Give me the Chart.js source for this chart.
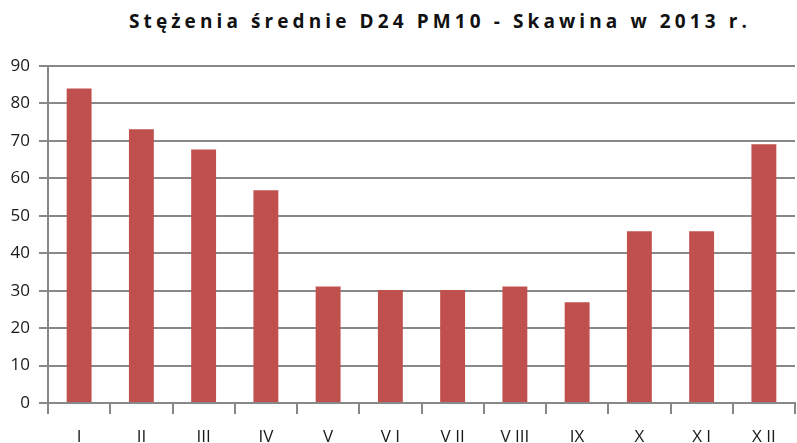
<!DOCTYPE html>
<html>
<head>
<meta charset="utf-8">
<script src="https://cdn.jsdelivr.net/npm/chart.js@4"></script>
<style>
  html, body { margin: 0; padding: 0; background: #fff; }
  #wrap { position: relative; width: 797px; height: 443px; }
  #title {
    position: absolute; left: 0; top: 8px; width: 880px; text-align: center;
    font: 700 19px "Open Sans", sans-serif; letter-spacing: 4.1px; color: #111;
    white-space: nowrap;
  }
  canvas { position: absolute; left: 0; top: 0; }
</style>
</head>
<body>
<div id="wrap">
  <div id="title">Stężenia średnie D24 PM10 - Skawina w 2013 r.</div>
  <canvas id="bar-chart" width="797" height="443"></canvas>
</div>
<script>
// months (labels spaced as in the original picture)
const months = ['I', 'II', 'III', 'IV', 'V', 'V I', 'V II', 'V III', 'IX', 'X', 'X I', 'X II'];
// monthly mean D24 PM10 concentrations
const pm10 = [84, 73.1, 67.7, 56.8, 31.1, 30.2, 30.2, 31.1, 26.9, 45.9, 45.9, 69.1];
const yTicks = [0, 10, 20, 30, 40, 50, 60, 70, 80, 90];

const gridColor = '#888888';
const tickFont = { family: '"Open Sans", sans-serif', size: 17 };

const ctx = document.getElementById('bar-chart').getContext('2d');
// eslint-disable-next-line no-unused-vars
const chart = new Chart(ctx, {
  type: 'bar',
  data: {
    labels: months,
    datasets: [
      {
        label: 'PM10',
        data: pm10,
        backgroundColor: '#C0504D',
        borderWidth: 0,
        categoryPercentage: 1,
        barPercentage: 0.4,
      },
    ],
  },
  options: {
    responsive: false,
    animation: false,
    layout: { padding: { top: 66, right: 2, left: 0, bottom: 0 } },
    plugins: {
      legend: { display: false },
      tooltip: { enabled: false },
      title: { display: false },
    },
    scales: {
      x: {
        grid: {
          offset: true,
          drawOnChartArea: false,
          color: gridColor,
          lineWidth: 2,
          tickLength: 11,
        },
        border: { color: gridColor, width: 2 },
        ticks: { color: '#1a1a1a', font: tickFont, padding: 13, maxRotation: 0, autoSkip: false },
        afterFit: (scale) => { scale.height = 40; },
      },
      y: {
        min: 0,
        max: 90,
        afterBuildTicks: (scale) => { scale.ticks = yTicks.map((v) => ({ value: v })); },
        grid: { color: gridColor, lineWidth: 2, tickLength: 9 },
        border: { color: gridColor, width: 2 },
        ticks: { color: '#1a1a1a', font: tickFont, padding: 9 },
        afterFit: (scale) => { scale.width = 48; },
      },
    },
  },
});
</script>
</body>
</html>
